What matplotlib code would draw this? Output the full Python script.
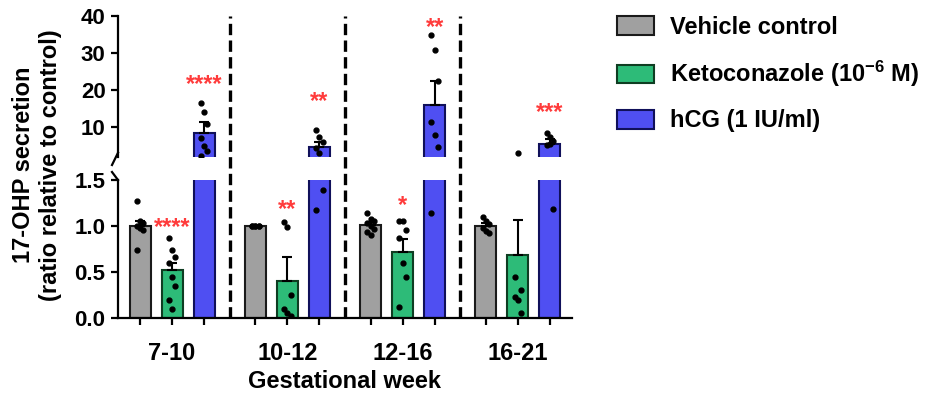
import numpy as np
import matplotlib.pyplot as plt
from matplotlib.patches import Patch
from matplotlib.transforms import blended_transform_factory

plt.rcParams['font.family'] = ['Liberation Sans', 'DejaVu Sans']
plt.rcParams['font.weight'] = 'bold'
plt.rcParams['axes.labelweight'] = 'bold'
plt.rcParams['mathtext.fontset'] = 'custom'
plt.rcParams['mathtext.rm'] = 'Liberation Sans:bold'
plt.rcParams['mathtext.default'] = 'rm'

# data
groups = ['7-10', '10-12', '12-16', '16-21']
series = ['Vehicle control', 'Ketoconazole (10$^{-6}$ M)', 'hCG (1 IU/ml)']
colors = ['#a0a0a0', '#2dbb78', '#4f4ff2']
edges = ['#1a1a1a', '#0f3d22', '#10105a']

veh_mean = [1.0, 1.0, 1.01, 1.0]
veh_err = [0.05, 0.0, 0.03, 0.03]
keto_mean = [0.52, 0.40, 0.72, 0.69]
keto_err = [0.08, 0.26, 0.14, 0.38]
hcg_mean = [8.4, 4.6, 15.9, 5.4]
hcg_err = [2.9, 1.4, 6.5, 1.5]

veh_pts = [[1.27, 1.05, 1.03, 1.0, 0.98, 0.96, 0.74],
           [1.0, 1.0, 1.0, 1.0, 1.0, 1.0],
           [1.14, 1.08, 1.05, 1.03, 1.0, 0.97, 0.93, 0.9],
           [1.1, 1.05, 1.02, 0.98, 0.95, 0.92]]
keto_pts = [[0.87, 0.74, 0.66, 0.6, 0.45, 0.35, 0.2, 0.1],
            [1.04, 0.99, 0.25, 0.1, 0.05, 0.02],
            [1.05, 1.05, 0.96, 0.87, 0.6, 0.45, 0.12],
            [0.45, 3.0, 0.3, 0.23, 0.2, 0.05]]
hcg_pts = [[16.5, 14.0, 11.0, 7.0, 5.0, 3.5, 2.2],
           [9.2, 7.3, 6.0, 4.5, 3.2, 1.39, 1.17],
           [35.0, 30.8, 22.4, 11.4, 8.0, 4.6, 1.14],
           [8.4, 7.3, 6.2, 5.1, 5.5, 1.18]]

keto_stars = ['****', '**', '*', '']
keto_star_y = [1.06, 1.26, 1.30, 0]
hcg_stars = ['****', '**', '**', '***']
hcg_star_y = [23.5, 18.9, 38.9, 15.9]

means = [veh_mean, keto_mean, hcg_mean]
errs = [veh_err, keto_err, hcg_err]
pts = [veh_pts, keto_pts, hcg_pts]

#%% layout
W, H = 930, 397
fig = plt.figure(figsize=(W / 100, H / 100), dpi=100)
ax_lo = fig.add_axes([118 / W, 1 - 318 / H, 454 / W, 138 / H])
ax_up = fig.add_axes([118 / W, 1 - 157 / H, 454 / W, 141 / H], sharex=ax_lo)
for ax in (ax_lo, ax_up):
    ax.patch.set_alpha(0)

lo_lim = (0, 1.5)
up_lim = (2, 40)

gstep = 3.6
centers = np.arange(len(groups)) * gstep
bw = 0.66
fs = 17

for ax, lim in ((ax_lo, lo_lim), (ax_up, up_lim)):
    for s in range(3):
        xs = centers + (s - 1)
        ax.bar(xs, means[s], width=bw, color=colors[s], edgecolor=edges[s],
               linewidth=1.5, zorder=2)
        m = np.array(means[s])
        e = np.array(errs[s])
        show = (m + e) > lim[0]
        ax.errorbar(xs[show], m[show], yerr=[np.zeros(show.sum()), e[show]], fmt='none',
                    ecolor='black', elinewidth=1.5, capsize=3.5, capthick=1.5,
                    zorder=3)
        for g in range(len(groups)):
            vals = np.array(pts[s][g])
            offs = (np.arange(len(vals)) % 3 - 1) * 0.1
            keep = (vals >= lim[0]) & (vals <= lim[1])
            ax.plot((xs[g] + offs)[keep], vals[keep], 'o', color='black', ms=3.5,
                    zorder=4)

# significance stars
for g in range(len(groups)):
    if keto_stars[g]:
        ax_lo.annotate(keto_stars[g], (centers[g], keto_star_y[g]), xytext=(0, -10),
                       textcoords='offset points', ha='center', va='baseline',
                       color='#ff3b3b', fontsize=fs, annotation_clip=False)
    ax_up.annotate(hcg_stars[g], (centers[g] + 1, hcg_star_y[g]), xytext=(0, -10),
                   textcoords='offset points', ha='center', va='baseline',
                   color='#ff3b3b', fontsize=fs, annotation_clip=False)

# axes styling
ax_lo.set_xlim(-1.69, centers[-1] + 1.69)
ax_lo.set_ylim(*lo_lim)
ax_up.set_ylim(*up_lim)
ax_lo.set_yticks([0, 0.5, 1.0, 1.5])
ax_lo.set_yticklabels(['0.0', '0.5', '1.0', '1.5'])
ax_up.set_yticks([10, 20, 30, 40])

bar_x = np.sort(np.concatenate([centers - 1, centers, centers + 1]))
ax_lo.set_xticks(bar_x)
labels = []
for g in groups:
    labels += ['', g, '']
ax_lo.set_xticklabels(labels)

for ax in (ax_lo, ax_up):
    ax.spines['top'].set_visible(False)
    ax.spines['right'].set_visible(False)
    ax.spines['left'].set_linewidth(1.6)
    ax.spines['bottom'].set_linewidth(1.6)
    ax.tick_params(axis='y', labelsize=16, width=1.6, length=5, pad=4)
    ax.tick_params(axis='x', labelsize=fs, width=1.6, length=5, pad=12)
ax_up.spines['bottom'].set_visible(False)
ax_up.tick_params(axis='x', bottom=False, labelbottom=False)

ax_lo.set_xlabel('Gestational week', fontsize=fs, fontweight='bold', labelpad=4)
fig.text(37 / W, 1 - 165 / H, '17-OHP secretion\n(ratio relative to control)',
         rotation=90, ha='center', va='center', fontsize=fs, multialignment='center')

# axis break marks
dx, dy = 6 / 454, 8 / 141
ax_up.plot([0, -dx], [0.03, -dy], color='black', lw=1.6, clip_on=False,
           transform=ax_up.transAxes)
dy2 = 8 / 138
ax_lo.plot([-dx, 0], [1 + dy2, 1], color='black', lw=1.6, clip_on=False,
           transform=ax_lo.transAxes)

# dashed group separators through both panels
ytop = (318 - 16) / 138
trans = blended_transform_factory(ax_lo.transData, ax_lo.transAxes)
for g in range(len(groups) - 1):
    xm = (centers[g] + centers[g + 1]) / 2
    ax_lo.plot([xm, xm], [0, ytop], color='black', lw=2.4,
               dashes=(3.4, 1.6), transform=trans, clip_on=False, zorder=1)

handles = [Patch(facecolor=colors[s], edgecolor=edges[s], linewidth=1.5)
           for s in range(3)]
fig.legend(handles, series, loc='upper left', bbox_to_anchor=(617 / W, 1 - 16 / H),
           frameon=False, fontsize=fs, handlelength=1.55, handleheight=0.85,
           handletextpad=0.7, labelspacing=0.85, borderpad=0, borderaxespad=0)

fig.savefig('out.png', dpi=100)
